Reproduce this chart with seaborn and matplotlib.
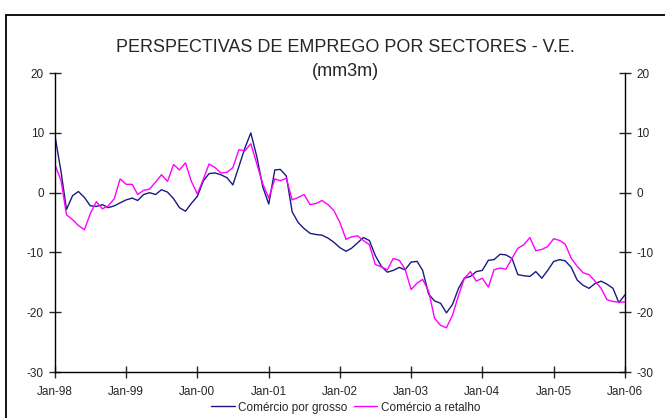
import pandas as pd
import matplotlib.pyplot as plt
import matplotlib.dates as mdates
import matplotlib.patches as patches
import seaborn as sns

# monthly values, Jan-98 .. Jan-06
grosso = [9.5, 3.5, -2.8, -0.5, 0.2, -0.8, -2.2, -2.3, -2.0, -2.5, -2.2, -1.7,
          -1.2, -0.9, -1.3, -0.3, 0.0, -0.3, 0.5, 0.1, -1.0, -2.5, -3.1, -1.8,
          -0.6, 2.0, 3.2, 3.3, 3.0, 2.5, 1.3, 4.4, 7.5, 10.0, 6.0, 1.0,
          -1.9, 3.8, 3.9, 2.8, -3.2, -5.0, -6.0, -6.8, -7.0, -7.1, -7.6, -8.3,
          -9.2, -9.8, -9.3, -8.4, -7.5, -8.0, -10.5, -12.3, -13.3, -13.0, -12.5, -12.9,
          -11.6, -11.5, -13.0, -17.0, -18.1, -18.5, -20.1, -18.7, -16.0, -14.3, -14.0, -13.2,
          -13.0, -11.3, -11.2, -10.3, -10.4, -11.0, -13.7, -13.9, -14.0, -13.2, -14.3, -13.0,
          -11.5, -11.2, -11.4, -12.5, -14.6, -15.5, -16.0, -15.2, -14.8, -15.3, -16.0, -18.4,
          -17.1]
retalho = [4.7, 2.0, -3.7, -4.5, -5.5, -6.2, -3.5, -1.5, -2.7, -2.2, -1.0, 2.3,
           1.4, 1.4, -0.3, 0.4, 0.6, 1.8, 3.0, 1.9, 4.7, 3.8, 5.0, 1.9,
           -0.2, 2.3, 4.8, 4.2, 3.3, 3.4, 4.2, 7.2, 7.0, 8.2, 4.8, 1.5,
           -0.9, 2.3, 2.0, 2.4, -1.2, -0.8, -0.3, -2.0, -1.8, -1.3, -2.0, -3.0,
           -5.0, -7.8, -7.4, -7.2, -8.0, -8.7, -12.0, -12.4, -12.9, -11.0, -11.3, -12.8,
           -16.2, -15.1, -14.5, -16.5, -21.0, -22.2, -22.6, -20.5, -17.2, -14.3, -13.2, -14.8,
           -14.3, -15.8, -12.9, -12.6, -12.8, -11.0, -9.3, -8.7, -7.5, -9.7, -9.5, -9.0,
           -7.7, -8.0, -8.6, -11.0, -12.3, -13.4, -13.7, -14.8, -16.0, -17.9, -18.2, -18.3,
           -18.3]
dates = pd.date_range("1998-01-01", periods=len(grosso), freq="MS")

df = pd.DataFrame({"Data": dates,
                   "Comércio por grosso": grosso,
                   "Comércio a retalho": retalho})
long_df = df.melt(id_vars="Data", var_name="Serie", value_name="Valor")

sns.set_style("white")
plt.rcParams["font.family"] = ["Liberation Sans", "DejaVu Sans"]
plt.rcParams["axes.unicode_minus"] = False

fig = plt.figure(figsize=(6.65, 4.18), dpi=100)
ax = fig.add_axes([0.0827, 0.110, 0.857, 0.715])

sns.lineplot(data=long_df, x="Data", y="Valor", hue="Serie",
             palette={"Comércio por grosso": "#1a1a80", "Comércio a retalho": "#ff00ff"},
             linewidth=1.0, ax=ax, legend=False)

ax.set_xlim(dates[0], dates[-1])
ax.set_ylim(-30, 20)
ax.set_yticks([-30, -20, -10, 0, 10, 20])
ax.xaxis.set_major_locator(mdates.YearLocator())
ax.xaxis.set_major_formatter(mdates.DateFormatter("%b-%y"))
ax.set_xlabel("")
ax.set_ylabel("")

for s in ["left", "right", "bottom"]:
    ax.spines[s].set_color("black")
    ax.spines[s].set_linewidth(1.0)
ax.spines["top"].set_visible(False)

ax.tick_params(axis="y", which="both", left=True, right=True, labelright=True,
               direction="inout", length=8, width=1, labelsize=8.5, pad=4)
ax.tick_params(axis="x", bottom=True, direction="inout", length=8, width=1,
               labelsize=8.5, pad=6)

fig.text(0.52, 0.887, "PERSPECTIVAS DE EMPREGO POR SECTORES - V.E.",
         ha="center", va="center", fontsize=13)
fig.text(0.52, 0.828, "(mm3m)", ha="center", va="center", fontsize=13)

handles = [plt.Line2D([], [], color="#1a1a80", lw=1.0),
           plt.Line2D([], [], color="#ff00ff", lw=1.0)]
fig.legend(handles, ["Comércio por grosso", "Comércio a retalho"], loc="center",
           bbox_to_anchor=(0.52, 0.025), ncol=2, frameon=False, fontsize=8.5,
           handlelength=2.0, handletextpad=0.3, columnspacing=0.5)

# outer chart frame
fig.patches.append(patches.Rectangle((0.009, -0.1), 1.2, 1.064, transform=fig.transFigure,
                                     fill=False, edgecolor="black", linewidth=1.3))

fig.savefig("out.png", dpi=100)
